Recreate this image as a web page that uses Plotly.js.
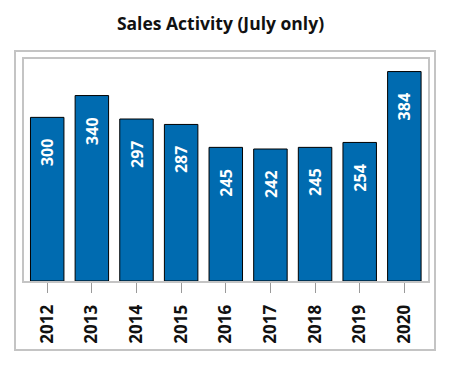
<!DOCTYPE html>
<html>
<head>
<meta charset="utf-8">
<script src="https://cdn.plot.ly/plotly-3.0.1.min.js"></script>
<style>
html,body{margin:0;padding:0;background:#fff;}
#chart{width:450px;height:371px;}
</style>
</head>
<body>
<div id="chart"></div>
<script>
var years = ['2012','2013','2014','2015','2016','2017','2018','2019','2020'];
var sales = [300, 340, 297, 287, 245, 242, 245, 254, 384];
var chartTitle = 'Sales Activity (July only)';

var FONT = '"Open Sans", "DejaVu Sans", sans-serif';

var trace = {
  type: 'bar',
  x: years,
  y: sales,
  width: 0.75,
  marker: {color: 'rgb(0,107,176)', line: {color: '#000000', width: 1}},
  hoverinfo: 'none'
};

var annotations = years.map(function (yr, i) {
  return {
    x: i, y: sales[i], xref: 'x', yref: 'y',
    text: '<b>' + sales[i] + '</b>',
    showarrow: false, textangle: -90,
    xanchor: 'center', yanchor: 'top', yshift: -20,
    font: {family: FONT, size: 16, color: '#ffffff'}
  };
});

var W0 = 24, W = 404, T0 = 59, H = 222;
function px2x(p) { return (p - W0) / W; }
function py2y(p) { return (T0 + H - p) / H; }

var layout = {
  width: 450, height: 371,
  margin: {l: 24, r: 22, t: 59, b: 90, pad: 0},
  paper_bgcolor: '#ffffff', plot_bgcolor: '#ffffff',
  showlegend: false,
  title: {text: '<b>' + chartTitle + '</b>', x: 0.49, xanchor: 'center', y: 0.935, yanchor: 'middle',
          font: {family: FONT, size: 17.5, color: '#111111'}},
  xaxis: {
    type: 'category', range: [-0.52, 8.53],
    showline: true, mirror: true, linecolor: '#c4c4c4', linewidth: 2,
    ticks: 'outside', ticklen: 10, tickwidth: 1, tickcolor: '#9a9a9a',
    tickangle: -90, showgrid: false, zeroline: false,
    tickfont: {family: FONT, size: 17, color: '#111111'},
    tickprefix: '<b>', ticksuffix: '</b>', ticklabelstandoff: 5
  },
  yaxis: {
    range: [0, 407], showline: true, mirror: true, linecolor: '#c4c4c4', linewidth: 2,
    showticklabels: false, ticks: '', showgrid: false, zeroline: false
  },
  annotations: annotations,
  shapes: [{
    type: 'rect', xref: 'paper', yref: 'paper',
    x0: px2x(15), x1: px2x(435), y0: py2y(350), y1: py2y(51),
    line: {color: '#c4c4c4', width: 2}, fillcolor: 'rgba(0,0,0,0)', layer: 'below'
  }],
  bargap: 0.25
};

Plotly.newPlot('chart', [trace], layout, {staticPlot: true, displayModeBar: false});
</script>
</body>
</html>
